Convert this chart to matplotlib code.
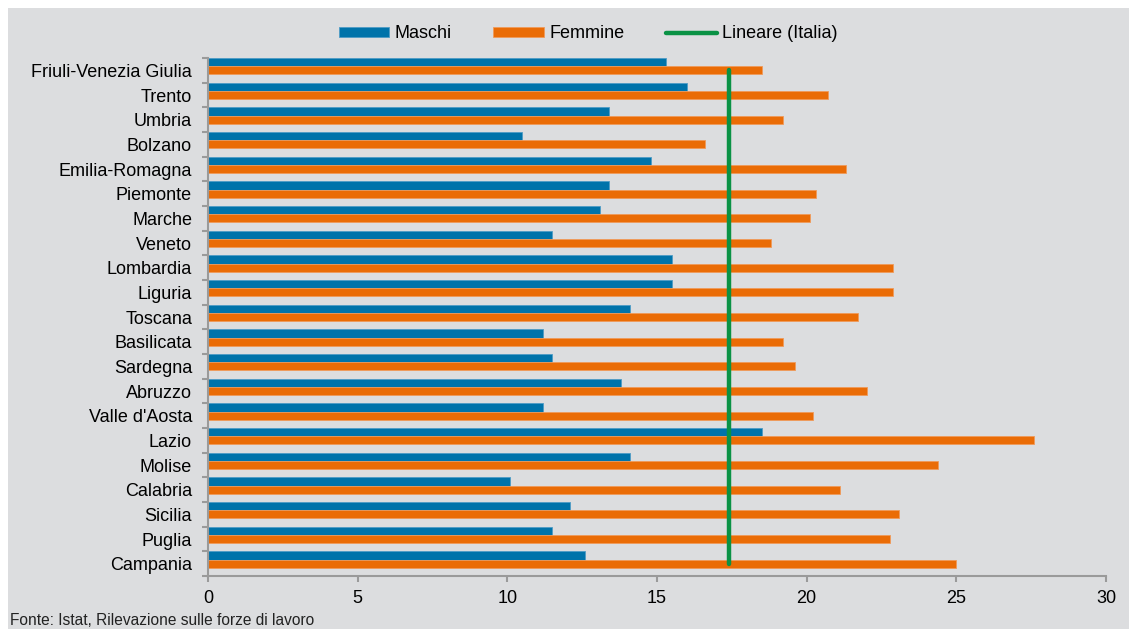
import numpy as np
import matplotlib
matplotlib.use("Agg")
import matplotlib.pyplot as plt

# regions, top to bottom as in the chart
regioni = ["Friuli-Venezia Giulia", "Trento", "Umbria", "Bolzano", "Emilia-Romagna",
           "Piemonte", "Marche", "Veneto", "Lombardia", "Liguria", "Toscana",
           "Basilicata", "Sardegna", "Abruzzo", "Valle d'Aosta", "Lazio", "Molise",
           "Calabria", "Sicilia", "Puglia", "Campania"]
maschi = [15.3, 16.0, 13.4, 10.5, 14.8, 13.4, 13.1, 11.5, 15.5, 15.5, 14.1,
          11.2, 11.5, 13.8, 11.2, 18.5, 14.1, 10.1, 12.1, 11.5, 12.6]
femmine = [18.5, 20.7, 19.2, 16.6, 21.3, 20.3, 20.1, 18.8, 22.9, 22.9, 21.7,
           19.2, 19.6, 22.0, 20.2, 27.6, 24.4, 21.1, 23.1, 22.8, 25.0]
italia = 17.4
xticks = [0, 5, 10, 15, 20, 25, 30]

BG = "#dcdddf"
BLUE = "#0073aa"
ORANGE = "#ea6c06"
GREEN = "#0a9245"
FS = 13

plt.rcParams["font.family"] = ["Liberation Sans", "DejaVu Sans"]

fig = plt.figure(figsize=(11.29, 6.29), dpi=100)
fig.patch.set_facecolor("white")
# grey panel with a thin white border on top and left
fig.patches.append(plt.Rectangle((8 / 1129, 0), 1, 1 - 8 / 629, transform=fig.transFigure,
                                 facecolor=BG, edgecolor="none", zorder=-10))

ax = fig.add_axes([208 / 1129, 1 - 576 / 629, 898 / 1129, 518 / 629])
ax.set_facecolor("none")

n = len(regioni)
y = np.arange(n)
h = 0.335
b1 = ax.barh(y - h, maschi, height=h, color=BLUE, edgecolor="#4f9cc6",
             linewidth=0.6, label="Maschi")
b2 = ax.barh(y, femmine, height=h, color=ORANGE, edgecolor="#f09a5a",
             linewidth=0.6, label="Femmine")
l1, = ax.plot([italia] * n, y, color=GREEN, linewidth=3.2, label="Lineare (Italia)",
              solid_capstyle="round")

ax.set_xlim(0, 30)
ax.set_ylim(n - 0.5, -0.5)

for side in ["top", "right"]:
    ax.spines[side].set_visible(False)
for side in ["left", "bottom"]:
    ax.spines[side].set_color("#9a9a9a")
    ax.spines[side].set_linewidth(1.5)

ax.set_xticks(xticks)
ax.set_xticklabels([str(t) for t in xticks])
ax.tick_params(axis="x", length=4, width=1.5, color="#9a9a9a", labelsize=FS, pad=6)

ax.set_yticks(y)
ax.set_yticklabels(regioni)
ax.set_yticks(np.arange(n + 1) - 0.5, minor=True)
ax.tick_params(axis="y", which="major", length=0, labelsize=FS, pad=11.5)
ax.tick_params(axis="y", which="minor", length=4.5, width=1.5, color="#9a9a9a")

ax.legend(handles=[b1, b2, l1], loc="center", bbox_to_anchor=(0.521, 0.946),
          bbox_transform=fig.transFigure, ncol=3, frameon=False, fontsize=FS,
          handlelength=2.8, handleheight=0.5, handletextpad=0.3, columnspacing=2.3)

# source note at the bottom left
fig.text(10 / 1129, 1 - 613 / 629, "Fonte: Istat, Rilevazione sulle forze di lavoro",
         fontsize=11.2, va="top", ha="left", color="#222222")

fig.savefig("out.png", dpi=100, facecolor=fig.get_facecolor())
